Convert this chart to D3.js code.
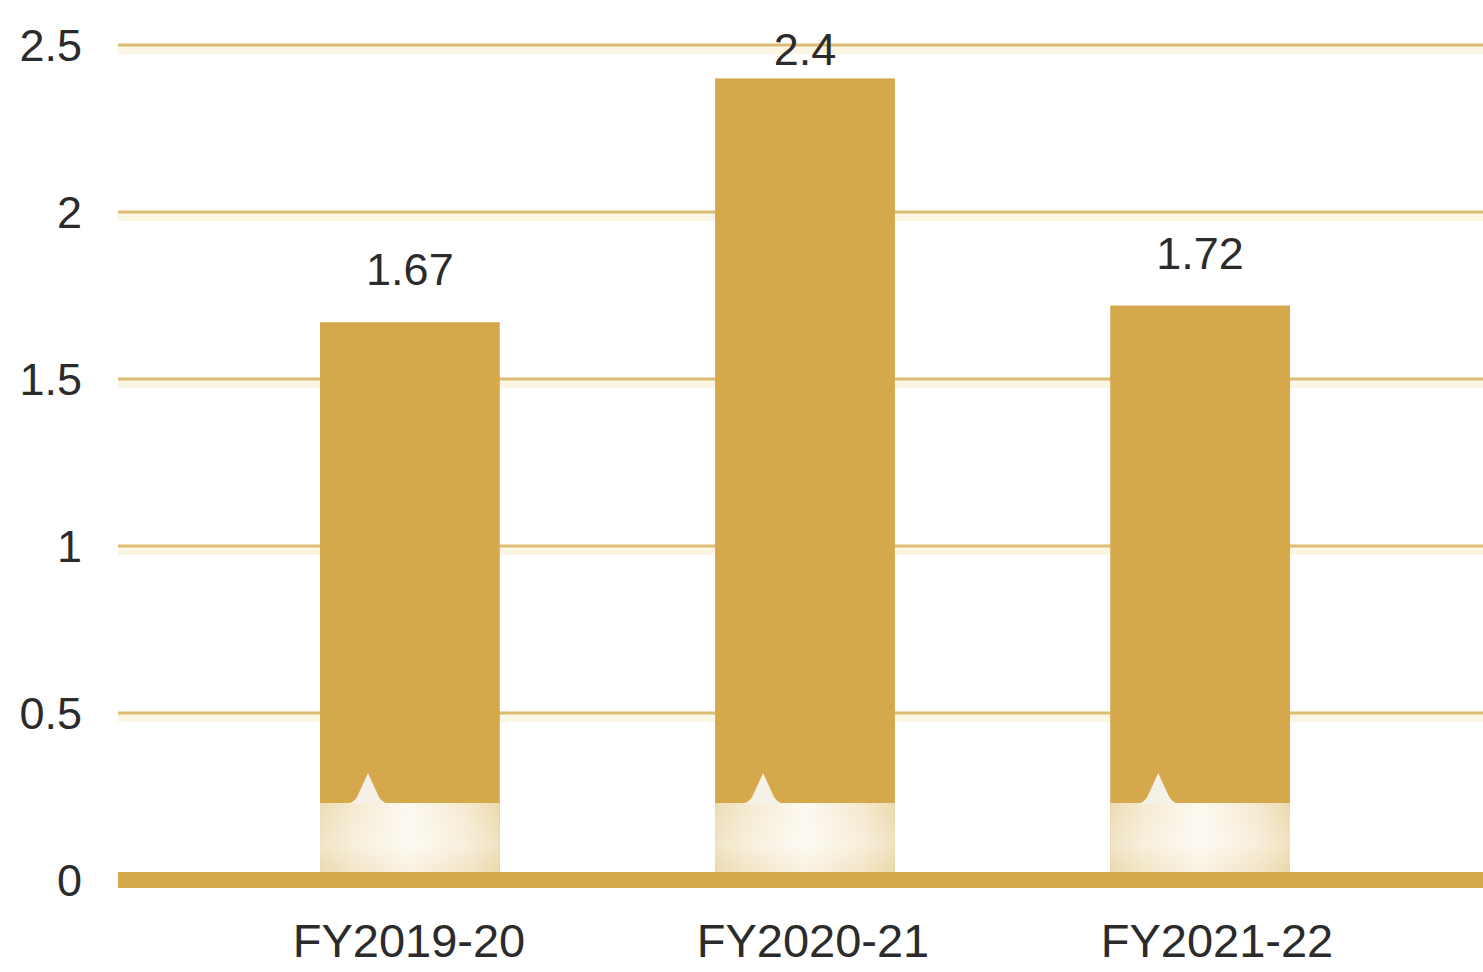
<!DOCTYPE html>
<html>
<head>
<meta charset="utf-8">
<script src="https://cdn.jsdelivr.net/npm/d3@7"></script>
<style>
  html, body { margin: 0; padding: 0; background: #fff; }
  text { font-family: "Liberation Sans", Arial, sans-serif; fill: #2b2b2b; }
</style>
</head>
<body>
<div id="chart"></div>
<script>
// data
var categories = ['FY2019-20', 'FY2020-21', 'FY2021-22'];
var values = [1.67, 2.4, 1.72];
var yTicks = [0, 0.5, 1, 1.5, 2, 2.5];

function renderBarChart(params) {
    var attrs = {
        svgWidth: 1483,
        svgHeight: 972,
        plotLeft: 118,
        barsLeft: 320,
        barsRight: 1290,
        yTop: 45,
        yBottom: 880,
        gold: '#d4a84b',
        gridColor: '#dcbd74',
        baseHeight: 69   // light foot of each bar, in px above the axis band
    };

    var svg = d3.select(params.container)
        .append('svg')
        .attr('width', attrs.svgWidth)
        .attr('height', attrs.svgHeight);

    var x = d3.scaleBand()
        .domain(categories)
        .range([attrs.barsLeft, attrs.barsRight])
        .paddingInner(0.545)
        .paddingOuter(0);

    // category labels sit on a slightly wider spread than the bars
    var xLabel = d3.scalePoint()
        .domain(categories)
        .range([409, 1217]);

    var y = d3.scaleLinear()
        .domain([0, 2.5])
        .range([attrs.yBottom, attrs.yTop]);

    // gradient for the light foot of the bars
    var defs = svg.append('defs');
    var grad = defs.append('linearGradient')
        .attr('id', 'footGrad')
        .attr('x1', '0%').attr('x2', '100%')
        .attr('y1', '0%').attr('y2', '0%');
    grad.append('stop').attr('offset', '0%').attr('stop-color', '#ecdcb4');
    grad.append('stop').attr('offset', '18%').attr('stop-color', '#f5ead0');
    grad.append('stop').attr('offset', '50%').attr('stop-color', '#fdf9f1');
    grad.append('stop').attr('offset', '82%').attr('stop-color', '#f5e9cf');
    grad.append('stop').attr('offset', '100%').attr('stop-color', '#ecd9ac');

    var vgrad = defs.append('linearGradient')
        .attr('id', 'footShade')
        .attr('x1', '0%').attr('x2', '0%')
        .attr('y1', '0%').attr('y2', '100%');
    vgrad.append('stop').attr('offset', '0%').attr('stop-color', '#fff').attr('stop-opacity', 0);
    vgrad.append('stop').attr('offset', '60%').attr('stop-color', '#fff').attr('stop-opacity', 0.25);
    vgrad.append('stop').attr('offset', '100%').attr('stop-color', '#e9d4a2').attr('stop-opacity', 0.2);

    // gridlines
    var grid = svg.append('g');
    grid.selectAll('line.shadow')
        .data(yTicks.filter(function (d) { return d > 0; }))
        .enter()
        .append('line')
        .attr('class', 'shadow')
        .attr('x1', attrs.plotLeft)
        .attr('x2', attrs.svgWidth)
        .attr('y1', function (d) { return y(d) + 5; })
        .attr('y2', function (d) { return y(d) + 5; })
        .attr('stroke', '#fbf5e4')
        .attr('stroke-width', 8);
    grid.selectAll('line.grid')
        .data(yTicks.filter(function (d) { return d > 0; }))
        .enter()
        .append('line')
        .attr('class', 'grid')
        .attr('x1', attrs.plotLeft)
        .attr('x2', attrs.svgWidth)
        .attr('y1', function (d) { return y(d); })
        .attr('y2', function (d) { return y(d); })
        .attr('stroke', attrs.gridColor)
        .attr('stroke-width', 3);

    // y tick labels
    svg.append('g')
        .selectAll('text')
        .data(yTicks)
        .enter()
        .append('text')
        .attr('x', 82)
        .attr('y', function (d) { return y(d); })
        .attr('dy', '0.36em')
        .attr('text-anchor', 'end')
        .attr('font-size', 45)
        .text(function (d) { return d; });

    var axisTop = attrs.yBottom - 8;

    // bars
    var bars = svg.append('g')
        .selectAll('g')
        .data(values)
        .enter()
        .append('g');

    bars.append('rect')
        .attr('x', function (d, i) { return x(categories[i]); })
        .attr('y', function (d) { return y(d); })
        .attr('width', x.bandwidth())
        .attr('height', function (d) { return axisTop - y(d); })
        .attr('fill', attrs.gold);

    bars.append('rect')
        .attr('x', function (d, i) { return x(categories[i]); })
        .attr('y', axisTop - attrs.baseHeight)
        .attr('width', x.bandwidth())
        .attr('height', attrs.baseHeight)
        .attr('fill', 'url(#footGrad)');

    bars.append('rect')
        .attr('x', function (d, i) { return x(categories[i]); })
        .attr('y', axisTop - attrs.baseHeight)
        .attr('width', x.bandwidth())
        .attr('height', attrs.baseHeight)
        .attr('fill', 'url(#footShade)');

    // little peak notch on top of the light foot
    bars.append('path')
        .attr('d', function (d, i) {
            var bx = x(categories[i]);
            var by = axisTop - attrs.baseHeight;
            return 'M' + (bx + 28) + ',' + (by + 1) +
                ' Q' + (bx + 34) + ',' + (by - 1) + ' ' + (bx + 37) + ',' + (by - 6) +
                ' L' + (bx + 48) + ',' + (by - 30) +
                ' L' + (bx + 59) + ',' + (by - 6) +
                ' Q' + (bx + 62) + ',' + (by - 1) + ' ' + (bx + 68) + ',' + (by + 1) + ' Z';
        })
        .attr('fill', '#f6f1e6');

    // value labels
    bars.append('text')
        .attr('x', function (d, i) { return x(categories[i]) + x.bandwidth() / 2; })
        .attr('y', function (d) { return Math.max(y(d) - 37, y(2.5) + 20); })
        .attr('text-anchor', 'middle')
        .attr('font-size', 45)
        .text(function (d) { return d; });

    // axis band
    svg.append('rect')
        .attr('x', attrs.plotLeft)
        .attr('y', axisTop)
        .attr('width', attrs.svgWidth - attrs.plotLeft)
        .attr('height', 16)
        .attr('fill', attrs.gold);

    // category labels
    svg.append('g')
        .selectAll('text')
        .data(categories)
        .enter()
        .append('text')
        .attr('x', function (d) { return xLabel(d); })
        .attr('y', 957)
        .attr('text-anchor', 'middle')
        .attr('font-size', 47)
        .text(function (d) { return d; });
}

renderBarChart({ container: '#chart' });
</script>
</body>
</html>
